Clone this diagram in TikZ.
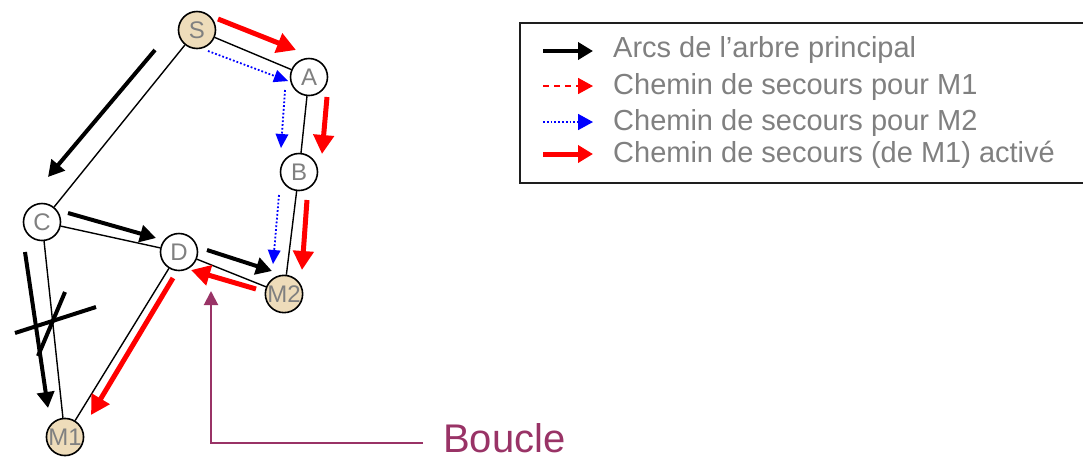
\documentclass[tikz,border=0pt]{standalone}
\usepackage{fontspec}
\setmainfont{Liberation Sans}
\usetikzlibrary{arrows.meta}
\definecolor{txtgray}{RGB}{128,128,128}
\definecolor{tan}{RGB}{238,220,186}
\definecolor{boucle}{RGB}{153,51,102}
\tikzset{
  vtx/.style={circle,draw=black,line width=1.6pt,minimum size=37pt,inner sep=0pt,fill=white,text=txtgray,font=\fontsize{24}{24}\selectfont},
  mvtx/.style={vtx,fill=tan},
  link/.style={line width=1.4pt,black},
  mainarc/.style={line width=4pt,black,-{Triangle[length=16pt,width=17pt]}},
  redact/.style={line width=5pt,red,-{Triangle[length=19pt,width=20pt]}},
  bluedot/.style={line width=1.8pt,blue,dotted,-{Triangle[length=14pt,width=13pt,line width=0pt]}},
  reddash/.style={line width=1.8pt,red,dashed,-{Triangle[length=15pt,width=16pt]}},
  legtxt/.style={anchor=base west,text=txtgray,font=\fontsize{29}{29}\selectfont,inner sep=0pt},
}
\begin{document}
\begin{tikzpicture}[x=1pt,y=-1pt]
\useasboundingbox (0,0) rectangle (1083,459);
\coordinate (Sp) at (197,30);
\coordinate (Ap) at (309,77);
\coordinate (Bp) at (299,172);
\coordinate (Cp) at (42,222);
\coordinate (Dp) at (179,252);
\coordinate (M2p) at (284,294);
\coordinate (M1p) at (65,437);
\node[mvtx] (S) at (Sp) {S};
\node[vtx] (A) at (Ap) {A};
\node[vtx] (B) at (Bp) {B};
\node[vtx] (C) at (Cp) {C};
\node[vtx] (D) at (Dp) {D};
\node[mvtx] (M2) at (M2p) {M2};
\node[mvtx] (M1) at (M1p) {M1};
% links
\draw[link] (S) -- (A);
\draw[link] (A) -- (B);
\draw[link] (B) -- (M2);
\draw[link] (S) -- (C);
\draw[link] (C) -- (D);
\draw[link] (D) -- (M2);
\draw[link] (C) -- (M1);
\draw[link] (D) -- (M1);
% main tree arcs
\coordinate (sc1) at (155,50); \coordinate (sc2) at (48,177);
\draw[mainarc] (sc1) -- (sc2);
\coordinate (cd1) at (68,213); \coordinate (cd2) at (156,238);
\draw[mainarc] (cd1) -- (cd2);
\coordinate (dm1) at (207,250); \coordinate (dm2) at (272,271);
\draw[mainarc] (dm1) -- (dm2);
\coordinate (cm1) at (25,252); \coordinate (cm2) at (48,408);
\draw[mainarc] (cm1) -- (cm2);
% cross
\coordinate (x1) at (15,333); \coordinate (x2) at (96,307);
\coordinate (x3) at (65,292); \coordinate (x4) at (38,356);
\draw[line width=4pt] (x1) -- (x2);
\draw[line width=4pt] (x3) -- (x4);
% activated backup path (red)
\coordinate (ra1) at (218,19); \coordinate (ra2) at (296,50);
\draw[redact] (ra1) -- (ra2);
\coordinate (rb1) at (327,97); \coordinate (rb2) at (322,154);
\draw[redact] (rb1) -- (rb2);
\coordinate (rc1) at (307,200); \coordinate (rc2) at (302,270);
\draw[redact] (rc1) -- (rc2);
\coordinate (rd1) at (256,289); \coordinate (rd2) at (191,270);
\draw[redact] (rd1) -- (rd2);
\coordinate (re1) at (173,278); \coordinate (re2) at (91,415);
\draw[redact] (re1) -- (re2);
% blue dotted backup for M2
\coordinate (ba1) at (208,51); \coordinate (ba2) at (288,81);
\draw[bluedot] (ba1) -- (ba2);
\coordinate (bb1) at (285,90); \coordinate (bb2) at (281,148);
\draw[bluedot] (bb1) -- (bb2);
\coordinate (bc1) at (279,195); \coordinate (bc2) at (273,264);
\draw[bluedot] (bc1) -- (bc2);
% Boucle
\coordinate (bl1) at (423,443); \coordinate (bl2) at (211,443); \coordinate (bl3) at (211,291);
\draw[boucle,line width=2pt,-{Triangle[length=14pt,width=14pt]}] (bl1) -- (bl2) -- (bl3);
\node[anchor=base west,text=boucle,inner sep=0pt,font=\fontsize{40}{40}\selectfont] (bt) at (443,452) {Boucle};
% legend
\draw[line width=2pt,draw={rgb,255:red,30;green,30;blue,30}] (520,23) rectangle (1100,183);
\coordinate (l1a) at (543,51); \coordinate (l1b) at (593,51);
\coordinate (l2a) at (543,86); \coordinate (l2b) at (593,86);
\coordinate (l3a) at (543,122); \coordinate (l3b) at (593,122);
\coordinate (l4a) at (543,154); \coordinate (l4b) at (593,154);
\draw[line width=4pt,black,-{Triangle[length=15pt,width=17pt]}] (l1a) -- (l1b);
\draw[reddash,dash pattern=on 6pt off 5pt] (l2a) -- (l2b);
\draw[bluedot,-{Triangle[length=15pt,width=16pt]}] (l3a) -- (l3b);
\draw[line width=5pt,red,-{Triangle[length=15pt,width=17pt]}] (l4a) -- (l4b);
\node[legtxt] (t1) at (613,57) {Arcs de l’arbre principal};
\node[legtxt] (t2) at (613,94) {Chemin de secours pour M1};
\node[legtxt] (t3) at (613,130) {Chemin de secours pour M2};
\node[legtxt] (t4) at (613,162) {Chemin de secours (de M1) activé};
\end{tikzpicture}
\end{document}
